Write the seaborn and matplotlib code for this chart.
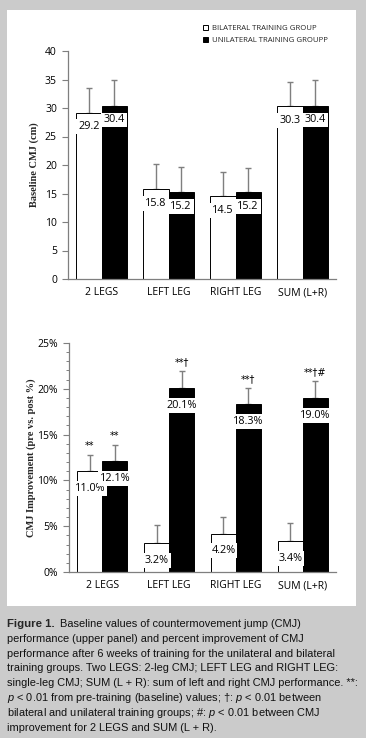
import matplotlib
matplotlib.use("Agg")
import matplotlib.pyplot as plt
import seaborn as sns
import pandas as pd
import numpy as np
from matplotlib.patches import Rectangle
from matplotlib.ticker import PercentFormatter, MultipleLocator

# ---------------- data ----------------
categories = ["2 LEGS", "LEFT LEG", "RIGHT LEG", "SUM (L+R)"]
groups = ["BILATERAL TRAINING GROUP", "UNILATERAL TRAINING GROUPP"]

baseline_bilateral = [29.2, 15.8, 14.5, 30.3]
baseline_unilateral = [30.4, 15.2, 15.2, 30.4]
baseline_err_bilateral = [4.3, 4.3, 4.2, 4.2]
baseline_err_unilateral = [4.5, 4.4, 4.3, 4.5]

improve_bilateral = [11.0, 3.2, 4.2, 3.4]
improve_unilateral = [12.1, 20.1, 18.3, 19.0]
improve_err_bilateral = [1.8, 1.9, 1.8, 1.9]
improve_err_unilateral = [1.8, 1.8, 1.8, 1.8]
sig_bilateral = ["**", "", "", ""]
sig_unilateral = ["**", "**†", "**†", "**†#"]

caption_lines = [
    "Baseline values of countermovement jump (CMJ)",
    "performance (upper panel) and percent improvement of CMJ",
    "performance after 6 weeks of training for the unilateral and bilateral",
    "training groups. Two LEGS: 2-leg CMJ; LEFT LEG and RIGHT LEG:",
    "single-leg CMJ; SUM (L + R): sum of left and right CMJ performance. **:",
    "$p$ < 0.01 from pre-training (baseline) values; †: $p$ < 0.01 between",
    "bilateral and unilateral training groups; #: $p$ < 0.01 between CMJ",
    "improvement for 2 LEGS and SUM (L + R).",
]

def frame(b, u, eb, eu):
    return pd.DataFrame({
        "category": categories * 2,
        "group": [groups[0]] * 4 + [groups[1]] * 4,
        "value": list(b) + list(u),
        "err": list(eb) + list(eu),
    })

df_base = frame(baseline_bilateral, baseline_unilateral, baseline_err_bilateral, baseline_err_unilateral)
df_imp = frame(improve_bilateral, improve_unilateral, improve_err_bilateral, improve_err_unilateral)

# ---------------- style ----------------
sns.set_theme(style="white")
plt.rcParams["font.family"] = ["Open Sans", "DejaVu Sans"]
plt.rcParams["mathtext.fontset"] = "custom"
plt.rcParams["mathtext.it"] = "Liberation Sans:italic"
plt.rcParams["mathtext.rm"] = "Liberation Sans"

W, H = 366, 738
fig = plt.figure(figsize=(W / 100, H / 100), dpi=100)
fig.patch.set_facecolor("#cbcbcb")
fig.patches.append(Rectangle((7 / W, 1 - 606 / H), 349 / W, 596 / H,
                             transform=fig.transFigure, facecolor="white",
                             edgecolor="none", zorder=-10))

ax1 = fig.add_axes([68 / W, 1 - 279 / H, 268 / W, 228 / H])
ax2 = fig.add_axes([69 / W, 1 - 572 / H, 267 / W, 229 / H])

palette = {groups[0]: "white", groups[1]: "black"}
GRAY = "#7f7f7f"

def draw(ax, df, label_off, fmt, label_fs, sig=None):
    sns.barplot(data=df, x="category", y="value", hue="group", order=categories,
                hue_order=groups, palette=palette, edgecolor="black", linewidth=0.7,
                width=0.75, errorbar=None, ax=ax, legend=(ax is ax1), zorder=2)
    bars = [p for p in ax.patches if p.get_height() > 0][:8]
    for i, p in enumerate(bars):
        row = df.iloc[i]
        xc = p.get_x() + p.get_width() / 2
        ax.errorbar(xc, row.value, yerr=[[0], [row.err]], color=GRAY, lw=1.0,
                    capsize=2.2, capthick=1.0, zorder=1)
        ax.text(xc, row.value + label_off, fmt.format(row.value), ha="center", va="center",
                fontsize=label_fs, color="black", zorder=4,
                bbox=dict(boxstyle="square,pad=0.18", facecolor="white", edgecolor="none"))
        if sig is not None and sig[i]:
            ax.text(xc, row.value + row.err + 1.0, sig[i], ha="center", va="center",
                    fontsize=7, color="black", family=["DejaVu Sans"])
    for s in ["top", "right"]:
        ax.spines[s].set_visible(False)
    for s in ["left", "bottom"]:
        ax.spines[s].set_color(GRAY)
        ax.spines[s].set_linewidth(0.9)
    ax.set_xlim(-0.5, 3.5)
    ax.set_xlabel("")
    ax.tick_params(axis="x", length=0, labelsize=7.5, pad=6, colors="black")
    ax.tick_params(axis="y", which="major", direction="out", left=True, length=4,
                   width=0.8, color=GRAY, labelsize=7.5, pad=4, labelcolor="black")
    ax.set_facecolor("none")

draw(ax1, df_base, -2.5, "{:.1f}", 7.8)
ax1.set_ylim(0, 40)
ax1.yaxis.set_major_locator(MultipleLocator(5))
ax1.set_ylabel("Baseline CMJ (cm)", family=["Liberation Serif"], fontweight="bold",
               fontsize=7.5, labelpad=4)
leg = ax1.legend(loc="upper left", bbox_to_anchor=(203 / W, 1 - 25 / H),
                 bbox_transform=fig.transFigure, frameon=False, fontsize=5.6,
                 handlelength=0.7, handleheight=0.7, handletextpad=0.4,
                 labelspacing=0.55, borderaxespad=0, borderpad=0)

sig_all = sig_bilateral + sig_unilateral
draw(ax2, df_imp, -1.9, "{:.1f}%", 7.8, sig=sig_all)
ax2.set_ylim(0, 25)
ax2.yaxis.set_major_locator(MultipleLocator(5))
ax2.yaxis.set_minor_locator(MultipleLocator(1))
ax2.yaxis.set_major_formatter(PercentFormatter(decimals=0))
ax2.tick_params(axis="y", which="minor", direction="out", left=True, length=2.5,
                width=0.7, color=GRAY)
ax2.set_ylabel("CMJ Improvement (pre vs. post %)", family=["Liberation Serif"],
               fontweight="bold", fontsize=7.5, labelpad=1)

# ---------------- caption ----------------
fs = 7.9
y0 = 1 - 624 / H
dy = 14.8 / H
t = fig.text(7 / W, y0, "Figure 1.", fontsize=fs + 0.3, fontweight="bold",
             family=["Liberation Sans"], va="center", ha="left")
r = fig.canvas.get_renderer()
bb = t.get_window_extent(renderer=r)
x_after = (bb.x1 + 5) / W
for k, line in enumerate(caption_lines):
    x = x_after if k == 0 else 7 / W
    fig.text(x, y0 - k * dy, line, fontsize=fs, family=["Liberation Sans", "DejaVu Sans"],
             va="center", ha="left", color="#111111")

fig.savefig("out.png", dpi=100, facecolor=fig.get_facecolor())
